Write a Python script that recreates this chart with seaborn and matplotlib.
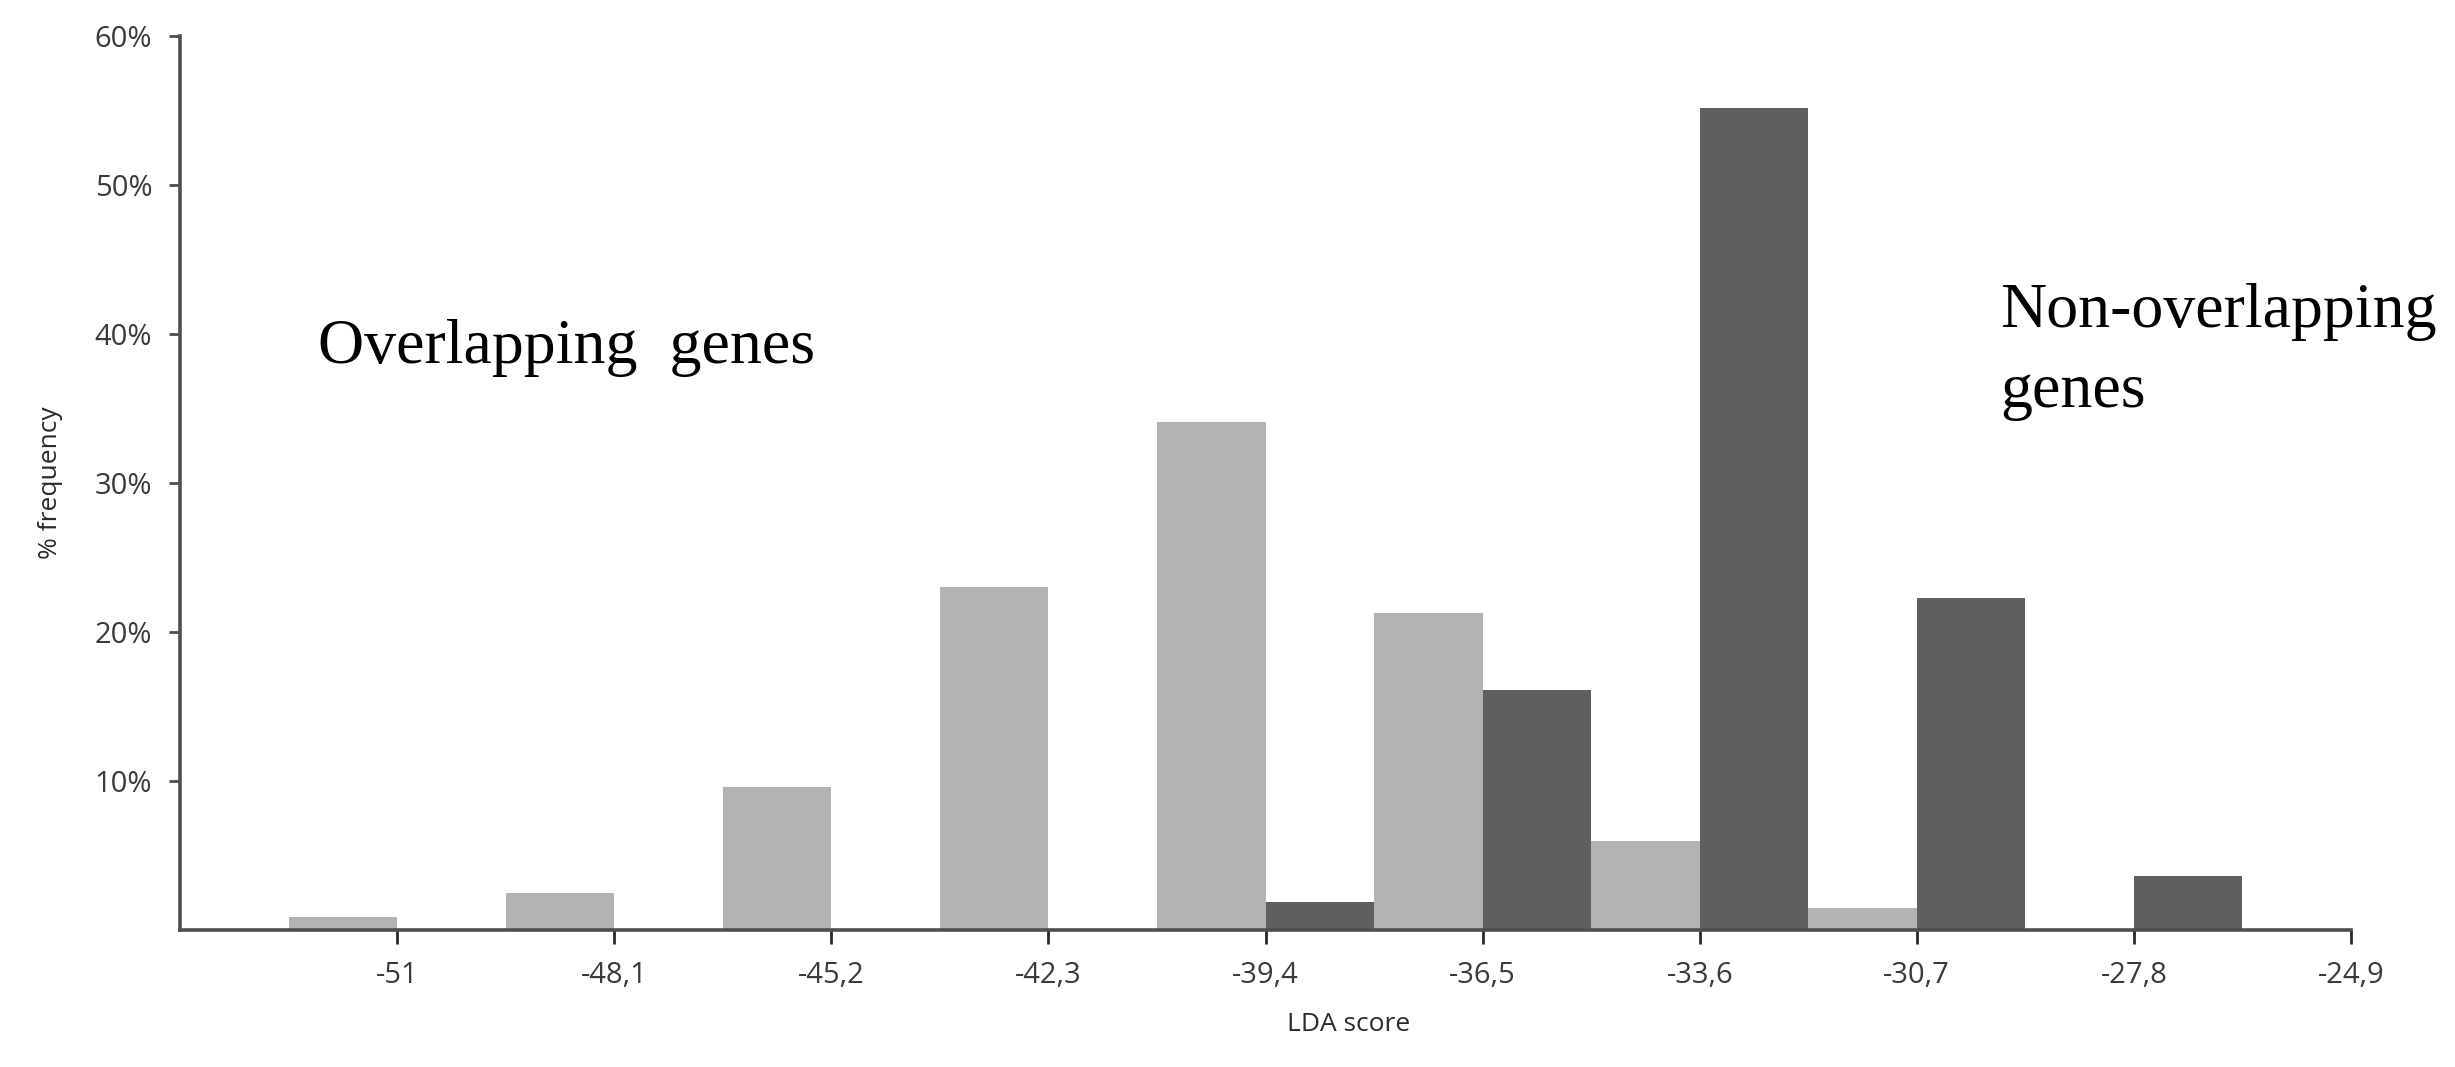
import matplotlib
matplotlib.use("Agg")
import matplotlib.pyplot as plt
import seaborn as sns
import pandas as pd

# ---- data ----
bins = ["-51", "-48,1", "-45,2", "-42,3", "-39,4", "-36,5", "-33,6", "-30,7", "-27,8", "-24,9"]
overlapping = [0.9, 2.5, 9.6, 23.0, 34.1, 21.3, 6.0, 1.5, 0.0, 0.0]
non_overlapping = [0.0, 0.0, 0.0, 0.0, 1.9, 16.1, 55.2, 22.3, 3.6, 0.0]
groups = ["Overlapping genes", "Non-overlapping genes"]
yticks = [10, 20, 30, 40, 50, 60]
ytick_labels = ["10%", "20%", "30%", "40%", "50%", "60%"]

sns.set_theme(style="ticks")
plt.rcParams["font.family"] = ["Open Sans", "DejaVu Sans"]

df = pd.DataFrame({
    "LDA score": bins + bins,
    "pct": overlapping + non_overlapping,
    "group": [groups[0]] * len(bins) + [groups[1]] * len(bins),
})

W, H = 2455, 1067
fig = plt.figure(figsize=(W / 100, H / 100), dpi=100)
ax = fig.add_axes([180 / W, 1 - 930 / H, (2351 - 180) / W, (930 - 36) / H])

sns.barplot(data=df, x="LDA score", y="pct", hue="group", order=bins,
            hue_order=groups, palette=["#b3b3b3", "#5f5f5f"], width=1.0,
            saturation=1, linewidth=0, edgecolor="none", errorbar=None,
            legend=False, ax=ax)

ax.set_xlim(-1, len(bins) - 1)
ax.set_ylim(0, 60)
ax.set_yticks(yticks)
ax.set_yticklabels(ytick_labels)

sns.despine(ax=ax)
axis_col = "#4f4f4f"
for s in ("left", "bottom"):
    ax.spines[s].set_color(axis_col)
    ax.spines[s].set_linewidth(2.6)
ax.tick_params(axis="y", length=8, width=2, color=axis_col, pad=12,
               labelsize=21, labelcolor="#3a3a3a")
ax.tick_params(axis="x", length=10, width=2, color="#2a2a2a", pad=12,
               labelsize=21, labelcolor="#3a3a3a")

ax.set_xlabel("LDA score", fontsize=19, color="#2a2a2a")
ax.xaxis.set_label_coords((1349 - 180) / (2351 - 180), -0.092)
ax.set_ylabel("% frequency", fontsize=19, color="#2a2a2a")
ax.yaxis.set_label_coords(-0.054, 0.5)

serif = ["Liberation Serif", "DejaVu Serif"]
fig.text(318 / W, 1 - 363 / H, "Overlapping  genes", family=serif,
         fontsize=46, color="black", ha="left", va="baseline")
fig.text(2000 / W, 1 - 407 / H, "Non-overlapping\ngenes", family=serif,
         fontsize=46, color="black", ha="left", va="baseline", linespacing=1.5)

fig.savefig("out.png", dpi=100)
